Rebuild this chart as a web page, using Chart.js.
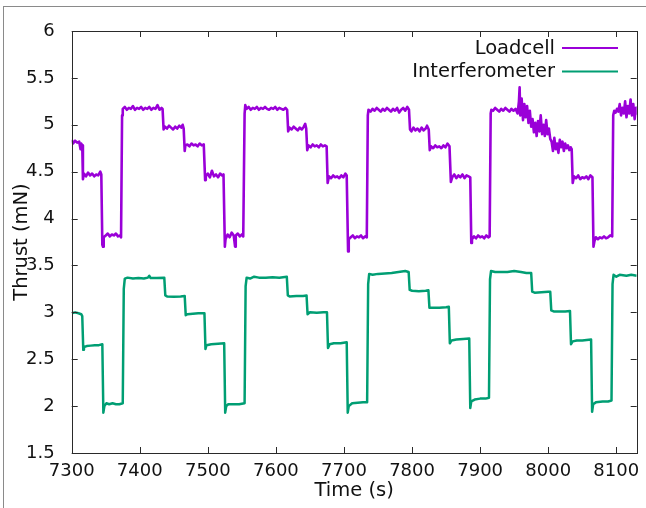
<!DOCTYPE html>
<html>
<head>
<meta charset="utf-8">
<script src="https://cdn.jsdelivr.net/npm/chart.js@4.4.1/dist/chart.umd.min.js"></script>
<style>
  html, body { margin: 0; padding: 0; background: #fff; }
  #wrap { position: relative; width: 646px; height: 508px; overflow: hidden; }
  #frame { position: absolute; left: 3px; top: 6px; width: 700px; height: 600px;
           border-top: 1px solid #8a8a8a; border-left: 1px solid #8a8a8a; }
  canvas { position: absolute; left: 0; top: 0; }
</style>
</head>
<body>
<div id="wrap">
  <div id="frame"></div>
  <canvas id="c" width="646" height="508"></canvas>
</div>
<script>
// ---- Data ----
const seriesNames = ["Loadcell", "Interferometer"];
const xTickValues = [7300, 7400, 7500, 7600, 7700, 7800, 7900, 8000, 8100];
const yTickValues = [1.5, 2, 2.5, 3, 3.5, 4, 4.5, 5, 5.5, 6];
const yTickLabels = ["1.5", "2", "2.5", "3", "3.5", "4", "4.5", "5", "5.5", "6"];

// [time (s), thrust (mN)]
const loadcell = [
  [7300,4.84],[7302,4.80],[7305,4.83],[7308,4.81],[7311,4.82],[7313,4.74],[7314,4.80],[7315.5,4.78],
  [7316.5,4.42],[7318,4.48],[7321,4.45],[7324,4.49],[7327,4.46],[7330,4.48],[7333,4.45],[7336,4.47],[7339,4.46],[7342,4.50],[7343.5,4.47],
  [7345,3.72],[7346,3.70],[7347,3.80],[7350,3.82],[7353,3.84],[7356,3.81],[7359,3.83],[7362,3.82],[7365,3.84],[7368,3.81],[7371,3.82],[7372.5,3.80],
  [7374,5.10],[7375,5.17],[7378,5.19],[7381,5.16],[7384,5.18],[7387,5.17],[7390,5.20],[7393,5.16],[7396,5.18],[7399,5.17],[7402,5.19],[7405,5.16],[7408,5.18],[7411,5.17],[7414,5.19],[7417,5.16],[7420,5.18],[7423,5.17],[7426,5.21],[7429,5.16],[7432,5.18],[7433.5,5.17],
  [7435,4.95],[7437,4.98],[7440,4.96],[7443,4.99],[7446,4.97],[7449,4.95],[7452,4.98],[7455,4.96],[7458,4.99],[7461,4.97],[7463,5.00],[7464.5,4.96],
  [7466,4.72],[7467,4.78],[7470,4.79],[7473,4.77],[7476,4.80],[7479,4.78],[7482,4.79],[7485,4.77],[7488,4.80],[7491,4.78],[7494,4.79],
  [7496,4.41],[7497,4.45],[7500,4.48],[7503,4.44],[7506,4.51],[7509,4.45],[7512,4.47],[7515,4.44],[7518,4.48],[7521,4.46],[7523,4.47],
  [7525,3.70],[7526,3.78],[7529,3.83],[7532,3.80],[7535,3.85],[7538,3.82],[7540,3.70],[7541,3.82],[7544,3.84],[7547,3.81],[7550,3.83],[7552,3.81],
  [7554,5.12],[7555,5.21],[7557,5.17],[7560,5.19],[7563,5.16],[7566,5.18],[7569,5.17],[7572,5.19],[7575,5.16],[7578,5.18],[7581,5.17],[7584,5.19],[7587,5.17],[7590,5.16],[7593,5.18],[7596,5.17],[7599,5.19],[7602,5.16],[7605,5.18],[7608,5.17],[7611,5.16],[7614,5.18],[7616.5,5.16],
  [7618,4.93],[7620,4.97],[7623,4.95],[7626,4.98],[7629,4.96],[7632,4.94],[7635,4.97],[7638,4.95],[7641,4.98],[7643,5.01],[7644.5,4.96],
  [7646,4.73],[7648,4.78],[7651,4.76],[7654,4.79],[7657,4.77],[7660,4.78],[7663,4.76],[7666,4.79],[7669,4.77],[7672,4.78],[7674.5,4.77],
  [7676,4.38],[7678,4.45],[7681,4.43],[7684,4.46],[7687,4.44],[7690,4.45],[7693,4.43],[7696,4.46],[7699,4.44],[7702,4.48],[7704,4.46],
  [7706,3.65],[7707,3.78],[7710,3.80],[7713,3.82],[7716,3.79],[7719,3.81],[7722,3.80],[7725,3.82],[7728,3.79],[7731,3.81],[7733.5,3.80],
  [7735,5.10],[7736,5.16],[7739,5.14],[7742,5.17],[7745,5.15],[7748,5.18],[7751,5.16],[7754,5.14],[7757,5.17],[7760,5.15],[7763,5.18],[7766,5.16],[7769,5.14],[7772,5.17],[7775,5.15],[7778,5.18],[7781,5.13],[7784,5.16],[7787,5.18],[7790,5.15],[7793,5.19],[7795.5,5.16],
  [7797,4.95],[7799,4.93],[7802,4.97],[7805,4.94],[7808,4.96],[7811,4.93],[7814,4.97],[7817,4.94],[7820,4.96],[7822,4.99],[7824.5,4.95],
  [7826,4.73],[7828,4.77],[7831,4.75],[7834,4.78],[7837,4.76],[7840,4.77],[7843,4.75],[7846,4.78],[7849,4.76],[7852,4.80],[7855,4.77],
  [7857,4.39],[7859,4.44],[7862,4.47],[7865,4.43],[7868,4.46],[7871,4.44],[7874,4.47],[7877,4.43],[7880,4.46],[7883,4.45],[7885.5,4.44],
  [7887,3.74],[7888,3.78],[7891,3.81],[7894,3.79],[7897,3.82],[7900,3.80],[7903,3.81],[7906,3.79],[7909,3.82],[7912,3.80],[7914,3.81],
  [7915.5,5.12],[7916.5,5.16],[7919,5.15],[7922,5.18],[7925,5.16],[7928,5.14],[7931,5.17],[7934,5.15],[7937,5.18],[7940,5.16],[7943,5.14],[7946,5.17],[7949,5.15],[7952,5.17],[7955,5.12],[7957,5.25],[7958,5.40],[7959,5.10],[7961,5.28],[7963,5.05],[7965,5.22],[7967,5.08],[7969,5.20],[7971,5.02],[7973,5.15],[7975,4.98],
  [7977,5.06],[7979,4.92],[7981,5.02],[7983,4.88],[7985,5.04],[7987,4.93],[7989,5.10],[7991,4.90],[7993,5.00],[7995,4.88],[7997,5.05],[7999,4.90],[8001,4.96],[8003,4.85],
  [8005,4.82],[8007,4.72],[8009,4.86],[8011,4.74],[8013,4.80],[8015,4.70],[8017,4.84],[8019,4.76],[8021,4.82],[8023,4.72],[8025,4.80],[8027,4.75],[8029,4.78],[8031,4.73],[8033,4.76],[8034.5,4.74],
  [8036,4.38],[8038,4.45],[8041,4.43],[8044,4.46],[8047,4.42],[8050,4.44],[8053,4.43],[8056,4.45],[8059,4.42],[8062,4.46],[8065,4.44],
  [8066.5,3.70],[8068,3.76],[8070,3.80],[8073,3.78],[8076,3.80],[8079,3.79],[8082,3.81],[8085,3.79],[8088,3.80],[8091,3.82],[8094,3.81],
  [8095.5,5.10],[8097,5.15],[8099,5.13],[8101,5.17],[8103,5.14],[8105,5.22],[8107,5.10],[8109,5.18],[8111,5.12],[8113,5.25],[8115,5.08],[8117,5.20],[8119,5.12],[8121,5.27],[8123,5.10],[8125,5.22],[8127,5.06],[8129,5.18],[8130,5.12]
];

const interferometer = [
  [7300,2.99],[7305,3.00],[7310,2.99],[7314,2.98],[7315.5,2.96],
  [7317,2.60],[7318,2.63],[7322,2.64],[7328,2.645],[7334,2.65],[7340,2.65],[7345,2.66],
  [7346.5,1.93],[7348,2.00],[7351,2.03],[7355,2.02],[7360,2.03],[7365,2.02],[7370,2.02],[7375,2.03],
  [7376.5,3.25],[7378,3.36],[7382,3.37],[7390,3.36],[7398,3.365],[7406,3.36],[7412,3.37],[7414,3.39],[7416,3.365],[7425,3.365],[7436,3.37],
  [7437.5,3.18],[7440,3.17],[7450,3.165],[7460,3.17],[7466,3.175],
  [7467.5,2.97],[7470,2.98],[7478,2.985],[7486,2.99],[7495,2.99],
  [7496.5,2.61],[7498,2.65],[7505,2.66],[7515,2.665],[7524,2.67],
  [7525.5,1.93],[7527,2.00],[7530,2.02],[7538,2.02],[7546,2.02],[7554,2.03],
  [7555.5,3.28],[7557,3.37],[7562,3.36],[7568,3.38],[7575,3.37],[7585,3.37],[7595,3.375],[7605,3.37],[7616,3.38],
  [7617.5,3.18],[7620,3.17],[7630,3.175],[7640,3.175],[7645,3.18],
  [7646.5,2.98],[7650,3.00],[7660,2.995],[7670,3.00],[7675,3.00],
  [7676.5,2.62],[7679,2.66],[7685,2.67],[7695,2.67],[7704,2.68],
  [7705.5,1.93],[7707,2.00],[7712,2.03],[7720,2.035],[7728,2.04],[7734,2.04],
  [7735.5,3.30],[7737,3.41],[7742,3.40],[7750,3.41],[7760,3.415],[7770,3.42],[7780,3.43],[7790,3.44],[7795,3.43],
  [7796.5,3.24],[7800,3.23],[7810,3.225],[7820,3.23],[7824,3.235],
  [7825.5,3.05],[7830,3.05],[7840,3.05],[7850,3.055],[7854,3.06],
  [7855.5,2.67],[7858,2.70],[7865,2.71],[7875,2.715],[7884,2.72],
  [7885.5,1.98],[7887,2.05],[7892,2.07],[7900,2.08],[7908,2.08],[7913,2.09],
  [7914.5,3.35],[7916,3.44],[7922,3.43],[7930,3.43],[7940,3.43],[7950,3.44],[7960,3.43],[7968,3.42],[7975,3.42],
  [7976.5,3.22],[7980,3.21],[7990,3.215],[8000,3.22],[8003,3.22],
  [8004.5,3.02],[8008,3.01],[8015,3.01],[8025,3.01],[8032,3.015],
  [8033.5,2.66],[8036,2.69],[8042,2.70],[8050,2.70],[8063,2.71],
  [8064.5,1.94],[8066,2.02],[8070,2.04],[8080,2.05],[8088,2.05],[8093,2.06],
  [8094.5,3.30],[8096,3.40],[8100,3.38],[8105,3.40],[8115,3.39],[8122,3.40],[8130,3.39]
];

const colors = ["#9a00d8", "#009e73"];
const FONT = "DejaVu Sans";

const toXY = arr => arr.map(p => ({ x: p[0], y: p[1] }));

// Frame, inward ticks, and gnuplot-style legend
const gnuplotDecor = {
  id: "gnuplotDecor",
  afterDraw(chart) {
    const ctx = chart.ctx;
    const a = chart.chartArea;
    const xs = chart.scales.x, ys = chart.scales.y;
    const L = 6;
    ctx.save();
    ctx.strokeStyle = "#2a2a2a";
    ctx.lineWidth = 1;
    ctx.beginPath();
    xTickValues.forEach(v => {
      const px = Math.round(xs.getPixelForValue(v)) + 0.5;
      ctx.moveTo(px, a.bottom); ctx.lineTo(px, a.bottom - L);
      ctx.moveTo(px, a.top); ctx.lineTo(px, a.top + L);
    });
    yTickValues.forEach(v => {
      const py = Math.round(ys.getPixelForValue(v)) + 0.5;
      ctx.moveTo(a.left, py); ctx.lineTo(a.left + L, py);
      ctx.moveTo(a.right, py); ctx.lineTo(a.right - L, py);
    });
    ctx.stroke();
    ctx.strokeRect(Math.round(a.left) + 0.5, Math.round(a.top) + 0.5,
                   Math.round(a.right - a.left), Math.round(a.bottom - a.top));
    // legend
    ctx.font = "19.5px '" + FONT + "'";
    ctx.textAlign = "right";
    ctx.textBaseline = "middle";
    chart.data.datasets.forEach((ds, i) => {
      const y = 48 + i * 23.5;
      ctx.fillStyle = "#111";
      ctx.fillText(ds.label, 555, y + 0.5);
      ctx.strokeStyle = ds.borderColor;
      ctx.lineWidth = 2;
      ctx.beginPath();
      ctx.moveTo(562, y); ctx.lineTo(618, y);
      ctx.stroke();
    });
    ctx.restore();
  }
};

new Chart(document.getElementById("c"), {
  type: "line",
  data: {
    datasets: [
      { label: seriesNames[0], data: toXY(loadcell), borderColor: colors[0], borderWidth: 2.6 },
      { label: seriesNames[1], data: toXY(interferometer), borderColor: colors[1], borderWidth: 2.5 }
    ]
  },
  options: {
    responsive: false,
    animation: false,
    devicePixelRatio: 1,
    parsing: false,
    elements: { point: { radius: 0 }, line: { tension: 0, borderJoinStyle: "round" } },
    layout: { padding: { top: 31, right: 9.3, left: 0, bottom: 0 } },
    plugins: { legend: { display: false }, tooltip: { enabled: false } },
    scales: {
      x: {
        type: "linear",
        min: 7300, max: 8130,
        afterFit(s) { s.height = 55; },
        afterBuildTicks(s) { s.ticks = xTickValues.map(v => ({ value: v })); },
        grid: { display: false },
        border: { display: false },
        ticks: { color: "#111", font: { family: FONT, size: 18 }, padding: 0, maxRotation: 0, autoSkip: false,
                 callback: v => String(v) },
        title: { display: true, text: "Time (s)", color: "#111", font: { family: FONT, size: 19.5 }, padding: { top: 0, bottom: 5 } }
      },
      y: {
        type: "linear",
        min: 1.5, max: 6,
        afterFit(s) { s.width = 71.7; },
        afterBuildTicks(s) { s.ticks = yTickValues.map(v => ({ value: v })); },
        grid: { display: false },
        border: { display: false },
        ticks: { color: "#111", font: { family: FONT, size: 18 }, padding: 9, autoSkip: false,
                 callback: (v) => { const i = yTickValues.indexOf(v); return i >= 0 ? yTickLabels[i] : ""; } },
        title: { display: true, text: "Thrust (mN)", color: "#111", font: { family: FONT, size: 19.5 }, padding: { top: 10, bottom: 0 } }
      }
    }
  },
  plugins: [gnuplotDecor]
});
</script>
</body>
</html>
